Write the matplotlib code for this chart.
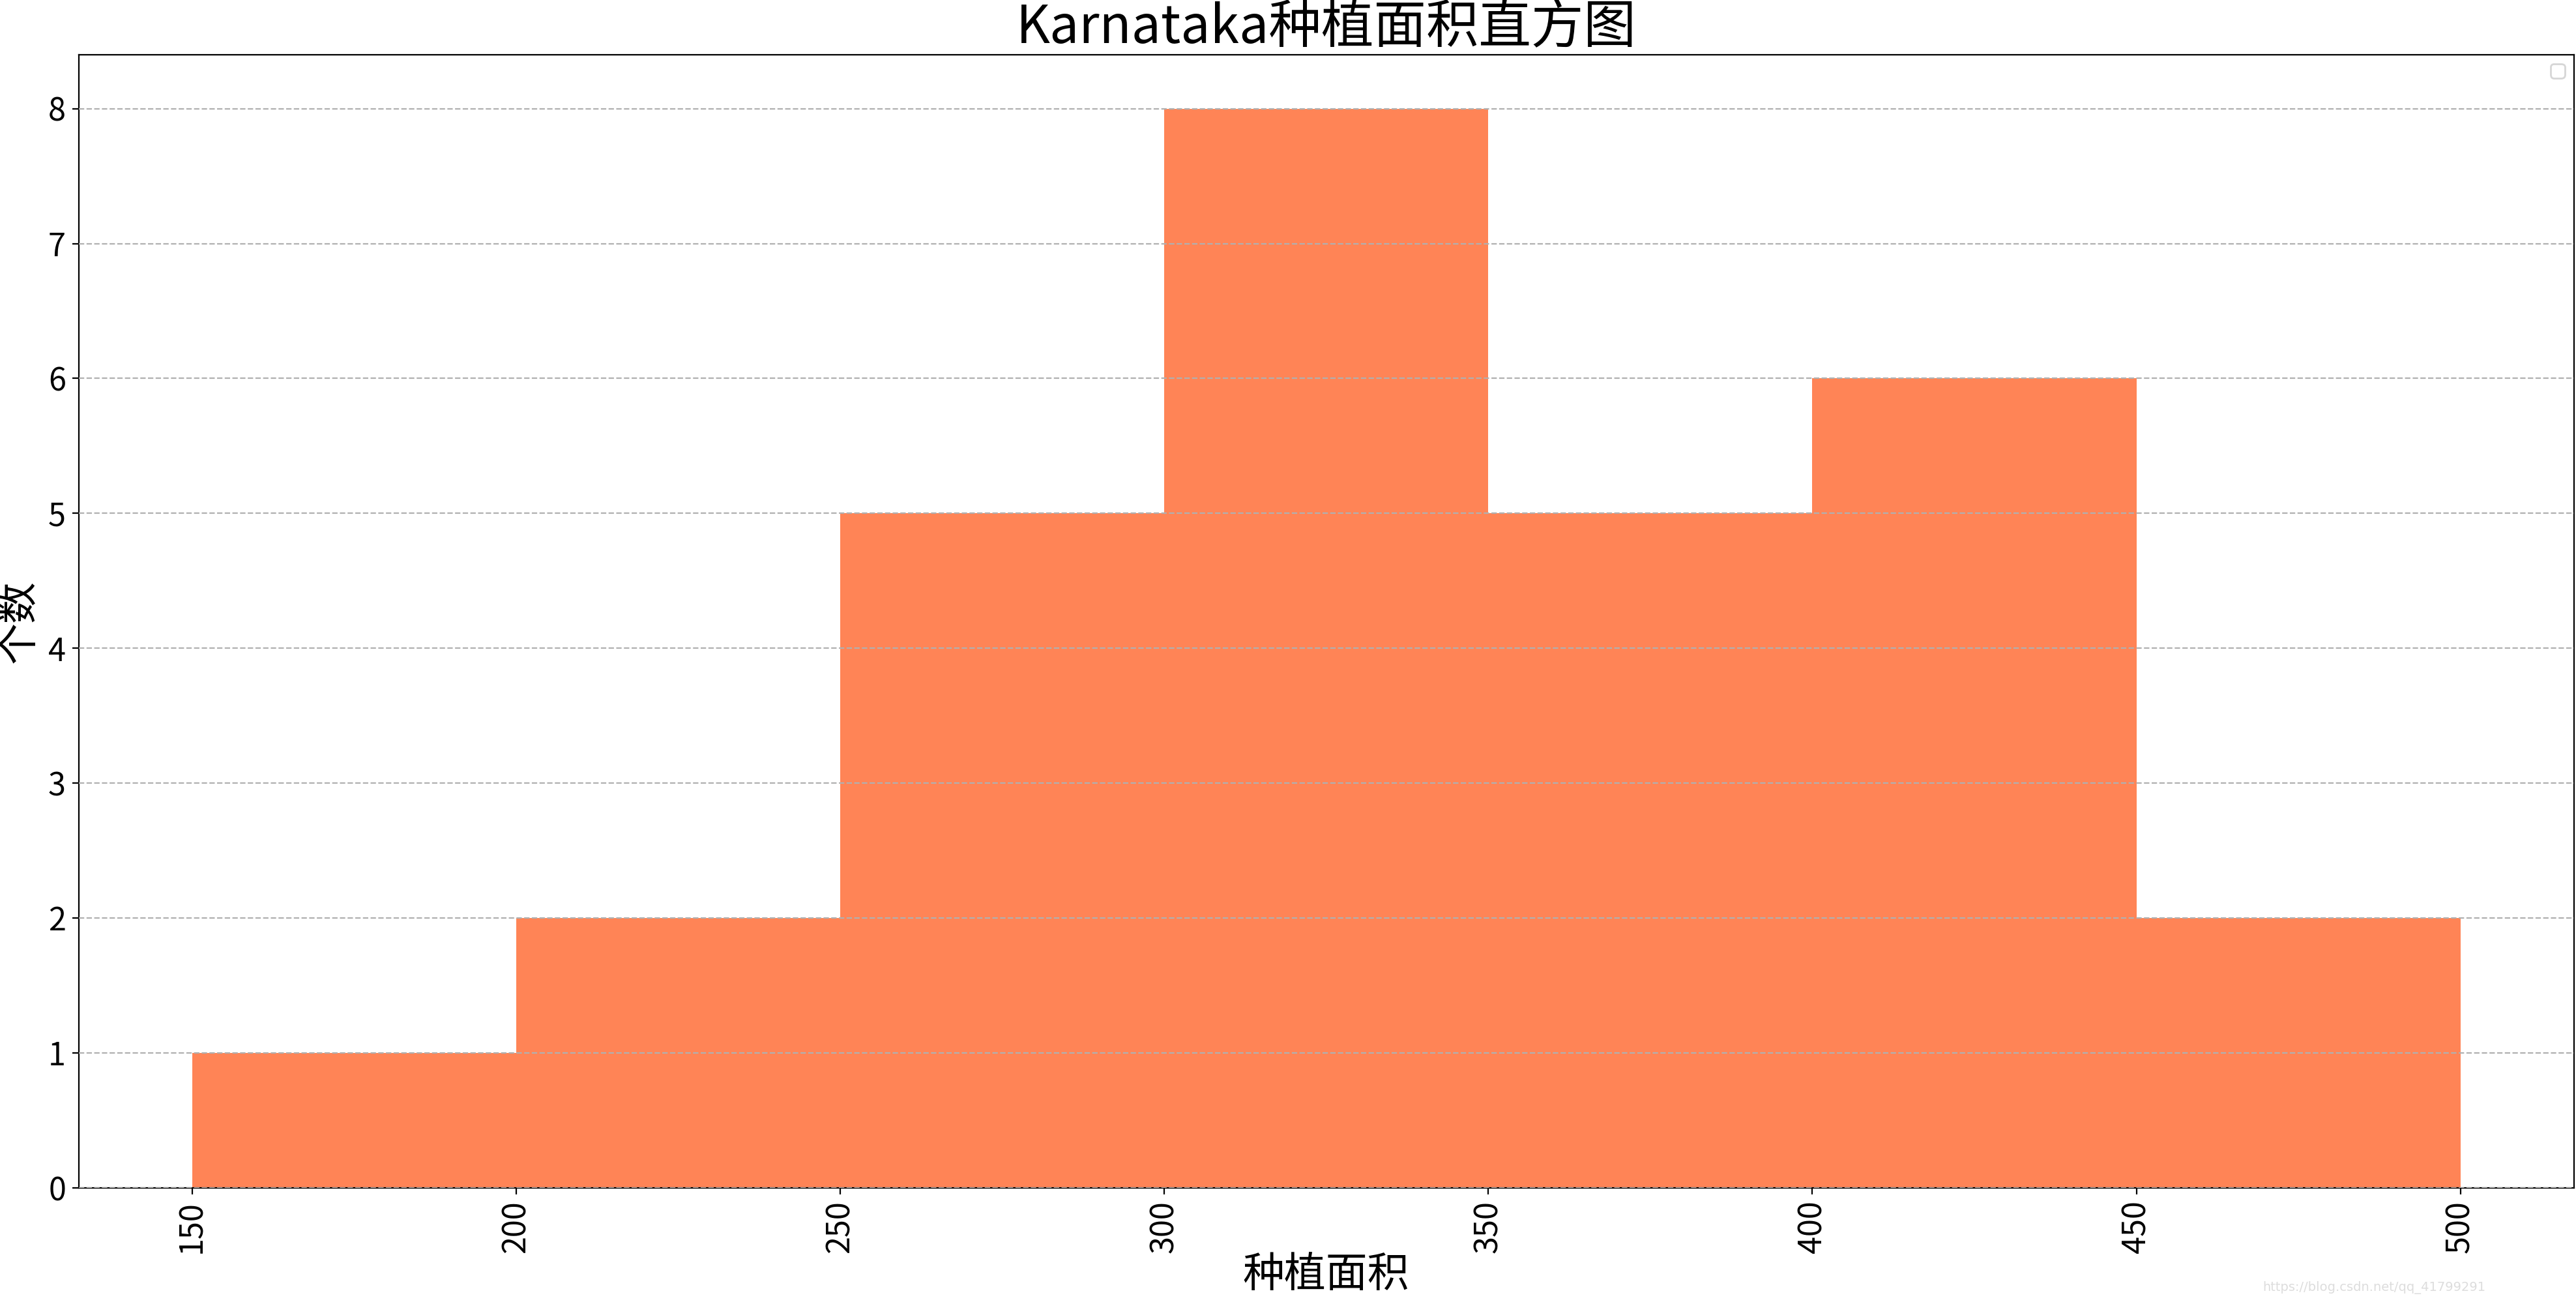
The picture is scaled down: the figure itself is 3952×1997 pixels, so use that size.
import matplotlib
matplotlib.use('Agg')
import matplotlib.pyplot as plt
import numpy as np

plt.rcParams['font.family'] = ['Noto Sans CJK SC', 'DejaVu Sans']
plt.rcParams['axes.unicode_minus'] = False

# 种植面积分组与各组个数
bins = [150, 200, 250, 300, 350, 400, 450, 500]
counts = [1, 2, 5, 8, 5, 6, 2]

fig = plt.figure(figsize=(19.76, 9.985), dpi=200)
ax = fig.add_axes([0.0305, 0.0876, 0.9687, 0.8704])

ax.hist(bins[:-1], bins=bins, weights=counts, color='#FF8456')
ax.grid(axis='y', linestyle='--', color='#b0b0b0', linewidth=0.8)
ax.set_axisbelow(False)

ax.set_xticks(bins)
ax.tick_params(axis='x', labelrotation=90, labelsize=17.5)
ax.tick_params(axis='y', labelsize=17.5)

ax.set_title('Karnataka种植面积直方图', fontsize=29, pad=4)
ax.set_xlabel('种植面积', fontsize=23, labelpad=0)
ax.set_ylabel('个数', fontsize=23, labelpad=4)
ax.legend(loc='upper right')

fig.text(0.965, 0.006, 'https://blog.csdn.net/qq_41799291', fontsize=7,
         color='#dddddd', ha='right', va='bottom', family=['Liberation Sans Narrow', 'DejaVu Sans'])

fig.savefig('out.png', dpi=200)
